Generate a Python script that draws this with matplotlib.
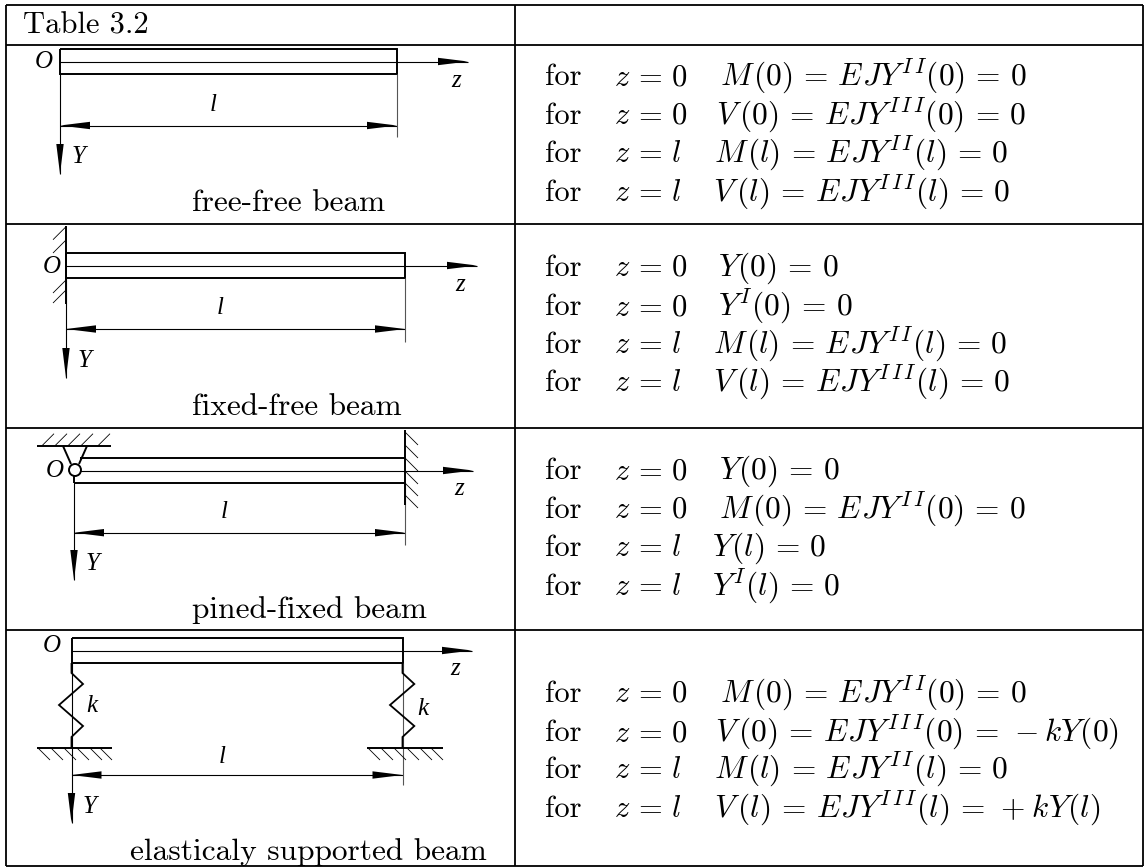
#!/usr/bin/env python3
"""Table 3.2: beam boundary conditions, drawn in pixel coordinates."""

import matplotlib
matplotlib.use('Agg')
import matplotlib.pyplot as plt
from matplotlib.patches import Circle, Polygon

plt.rcParams['mathtext.fontset'] = 'cm'

W, H = 1146, 867
TEXT_SIZE = 22.6
LABEL_SIZE = 18
LABEL_FONT = 'Liberation Serif'

# table grid
grid_x = [6, 515, 1143]
grid_y = [5, 45, 224, 428, 630, 866]

# text
title = 'Table 3.2'
captions = ['free-free beam', 'fixed-free beam', 'pined-fixed beam', 'elasticaly supported beam']
caption_x = [192, 192, 192, 130]
caption_y = [211, 415, 618, 860]

conditions = [
    [('$z=0$', '$M(0)=EJY^{II}(0)=0$'),
     ('$z=0$', '$V(0)=EJY^{III}(0)=0$'),
     ('$z=l$', '$M(l)=EJY^{II}(l)=0$'),
     ('$z=l$', '$V(l)=EJY^{III}(l)=0$')],
    [('$z=0$', '$Y(0)=0$'),
     ('$z=0$', '$Y^{I}(0)=0$'),
     ('$z=l$', '$M(l)=EJY^{II}(l)=0$'),
     ('$z=l$', '$V(l)=EJY^{III}(l)=0$')],
    [('$z=0$', '$Y(0)=0$'),
     ('$z=0$', '$M(0)=EJY^{II}(0)=0$'),
     ('$z=l$', '$Y(l)=0$'),
     ('$z=l$', '$Y^{I}(l)=0$')],
    [('$z=0$', '$M(0)=EJY^{II}(0)=0$'),
     ('$z=0$', '$V(0)=EJY^{III}(0)=-kY(0)$'),
     ('$z=l$', '$M(l)=EJY^{II}(l)=0$'),
     ('$z=l$', '$V(l)=EJY^{III}(l)=+kY(l)$')],
]
condition_y = [[85, 124, 162, 201], [276, 315, 353, 391], [479, 518, 556, 595], [702, 741, 778, 817]]
equation_x = [[720, 716, 714, 713], [718, 718, 713, 713], [719, 719, 712, 712], [720, 715, 714, 714]]

# beam geometry, one entry per row
beam_left = [60, 66, 74, 71.5]
beam_right = [397, 405, 405, 402.5]
beam_top = [49, 253, 458, 638]
beam_bottom = [74, 278, 483, 663]
axis_tip = [468, 477, 473, 472]
dim_y = [125.5, 329, 532.7, 775]
ext_end = [137, 342, 545, 785]
y_tip = [174, 378, 580, 823]

label_o = [(44, 62), (52, 267), (55, 471), (52, 646)]
label_z = [(456, 81), (460, 285), (459, 489), (455, 669)]
label_l = [(213, 105), (220, 308), (224, 512), (222, 757)]
label_y = [(79, 157), (85, 361), (93, 564), (90, 807)]
label_k = [(92, 706), (423, 709)]

# supports
wall2_y = [226, 304]
wall2_hatch = [226.7, 240, 280, 290]
wall3_y = [430, 505]
wall3_hatch = [432, 445, 458, 471, 483, 495]
ceiling_x = [37, 111]
ceiling_y = 445.7
ceiling_hatch = [42, 55, 68, 81, 98]
pin_xy = (75, 470)
pin_legs = [[(63, 446), (71, 464)], [(87, 446), (79, 464)]]
spring_left_x = [71.5, 71.5, 83, 59, 83, 71.5, 71.5]
spring_right_x = [402.5, 402.5, 414.3, 390, 414.3, 402.5, 402.5]
spring_y = [663, 673, 684, 705, 726, 737, 748]
ground_left = [37, 112]
ground_right = [367, 443]
ground_y = 748
ground_hatch_left = [38, 51, 64, 77, 90, 100]
ground_hatch_right = [368, 381, 394, 407, 420, 431]

fig = plt.figure(figsize=(W / 100, H / 100), dpi=100)
ax = fig.add_axes([0, 0, 1, 1])
ax.set_xlim(0, W)
ax.set_ylim(H, 0)
ax.axis('off')


def line(xs, ys, lw=0.8, color='black'):
    ax.plot(xs, ys, color=color, lw=lw, solid_capstyle='butt', solid_joinstyle='miter')


def arrow_head(tip, direction, length=30, half=3.7):
    """Long thin filled head, direction is a unit vector (dx, dy)."""
    x, y = tip
    dx, dy = direction
    bx, by = x - dx * length, y - dy * length
    pts = [(x, y), (bx - dy * half, by - dx * half), (bx + dy * half, by + dx * half)]
    ax.add_patch(Polygon(pts, closed=True, fc='black', ec='none', zorder=3))


def label(pos, s, size=LABEL_SIZE):
    ax.text(pos[0], pos[1], s, family=LABEL_FONT, style='italic', fontsize=size,
            ha='center', va='center')


def spaced(eq):
    # mathtext packs things tighter than TeX does
    eq = eq.replace('=', r'\,=\,').replace('+k', r'+\hspace{0.05}k')
    eq = eq.replace('III', r'I\hspace{0.15}I\hspace{0.15}I').replace('II', r'I\hspace{0.15}I')
    eq = eq.replace('EJ', r'E\hspace{0.05}J')
    eq = eq.replace('M(', r'M\hspace{0.1}(').replace('V(', r'V\hspace{0.2}(')
    eq = eq.replace('Y(', r'Y\hspace{0.05}(')
    return eq


# grid
for x in grid_x:
    line([x, x], [grid_y[0], grid_y[-1]], lw=1.3)
for y in grid_y:
    line([grid_x[0], grid_x[-1]], [y, y], lw=1.3)

ax.text(23, 33, title, family='cmr10', fontsize=22, va='baseline')

for i in range(4):
    left, right = beam_left[i], beam_right[i]
    top, bottom = beam_top[i], beam_bottom[i]
    mid = (top + bottom) / 2

    # beam outline
    if i == 2:
        line([left + 6, right], [top, top], lw=1.4)
        line([left, right], [bottom, bottom], lw=1.4)
        line([left, left], [pin_xy[1] + 6, bottom], lw=1.4)
    else:
        line([left, right, right, left, left], [top, top, bottom, bottom, top], lw=1.4)

    # z axis
    line([left if i != 2 else left + 6, axis_tip[i]], [mid, mid])
    arrow_head((axis_tip[i], mid), (1, 0))

    # dimension line
    line([left, right], [dim_y[i], dim_y[i]])
    arrow_head((left, dim_y[i]), (-1, 0))
    arrow_head((right, dim_y[i]), (1, 0))
    line([right, right], [bottom, ext_end[i]], color='#555555')

    # Y axis
    line([left, left], [bottom, y_tip[i]])
    arrow_head((left, y_tip[i]), (0, 1))

    label(label_o[i], 'O')
    label(label_z[i], 'z')
    label(label_l[i], 'l')
    label(label_y[i], 'Y')

    ax.text(caption_x[i], caption_y[i], captions[i], family='cmr10', fontsize=TEXT_SIZE,
            va='baseline')

    for j, (where, eq) in enumerate(conditions[i]):
        yy = condition_y[i][j]
        ax.text(545, yy, 'for', family='cmr10', fontsize=22, va='baseline')
        ax.text(614, yy, spaced(where), fontsize=22, va='baseline')
        ax.text(equation_x[i][j], yy, spaced(eq), fontsize=TEXT_SIZE, va='baseline')

# fixed wall, row 2
line([beam_left[1]] * 2, wall2_y, lw=1.4)
for y in wall2_hatch:
    line([beam_left[1], beam_left[1] - 13], [y, y + 13], lw=0.6)

# fixed wall, row 3
line([beam_right[2]] * 2, wall3_y, lw=1.4)
for y in wall3_hatch:
    line([beam_right[2], beam_right[2] + 13], [y, y + 13], lw=0.6)

# pin support, row 3
line(ceiling_x, [ceiling_y, ceiling_y], lw=1.4)
for x in ceiling_hatch:
    line([x, x + 12], [ceiling_y, ceiling_y - 12], lw=0.6)
for leg in pin_legs:
    line([leg[0][0], leg[1][0]], [leg[0][1], leg[1][1]], lw=1.4)
ax.add_patch(Circle(pin_xy, 6, fc='white', ec='black', lw=1.4, zorder=4))

# springs, row 4
line(spring_left_x, spring_y, lw=1.3)
line(spring_right_x, spring_y, lw=1.3)
for xr, hatches in ((ground_left, ground_hatch_left), (ground_right, ground_hatch_right)):
    line(xr, [ground_y, ground_y], lw=1.4)
    for x in hatches:
        line([x, x + 12], [ground_y, ground_y + 12], lw=0.6)
label(label_k[0], 'k')
label(label_k[1], 'k')

fig.savefig('out.png', dpi=100)
